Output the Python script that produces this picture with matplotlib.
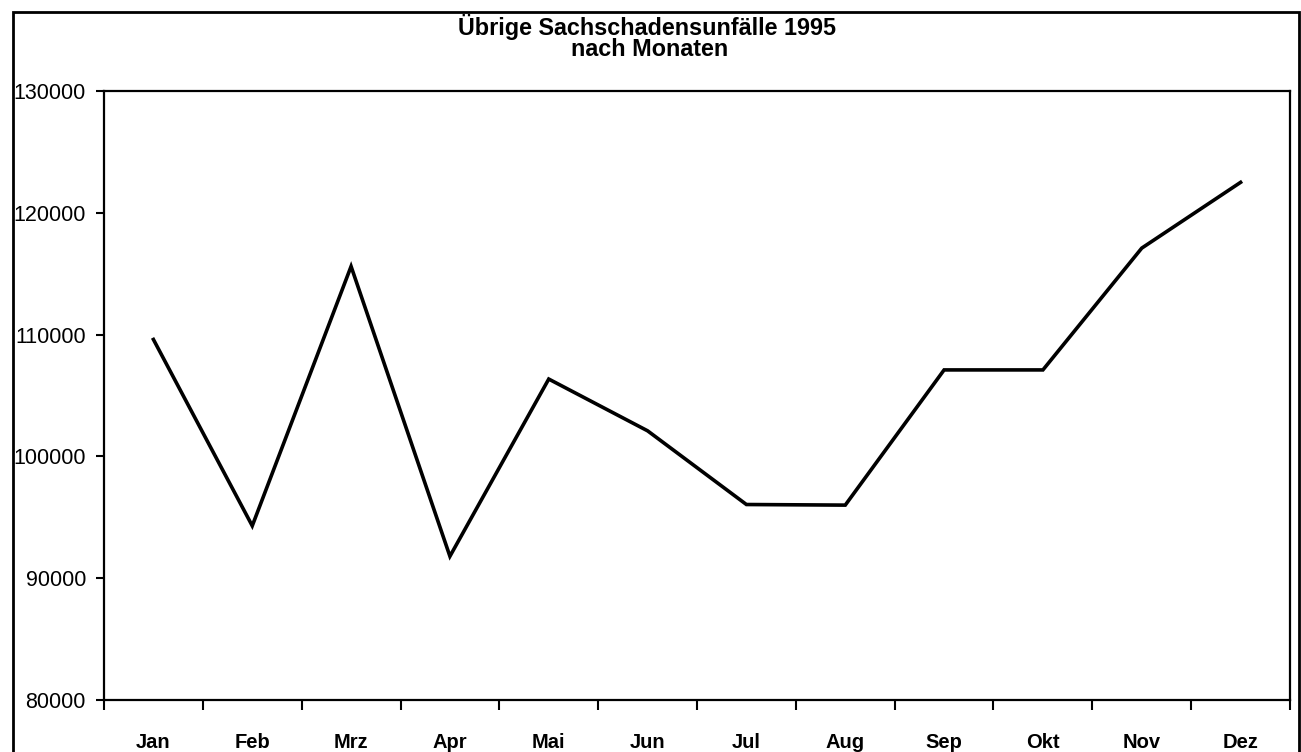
import matplotlib
matplotlib.use("Agg")
import matplotlib.pyplot as plt
from matplotlib.patches import Rectangle
import numpy as np

# data
months = ["Jan", "Feb", "Mrz", "Apr", "Mai", "Jun", "Jul", "Aug", "Sep", "Okt", "Nov", "Dez"]
accidents = [109600, 94300, 115600, 91800, 106350, 102100, 96050, 96000, 107100, 107100, 117100, 122500]
y_ticks = [80000, 90000, 100000, 110000, 120000, 130000]

plt.rcParams['font.family'] = ['Liberation Sans', 'DejaVu Sans']

fig = plt.figure(figsize=(13.01, 7.52), dpi=100)
ax = fig.add_axes([104 / 1301, 1 - 700 / 752, (1290 - 104) / 1301, (700 - 91) / 752])

x = np.arange(len(months))
ax.plot(x, accidents, color='black', lw=2.6, solid_joinstyle='miter')

ax.set_xlim(-0.5, len(months) - 0.5)
ax.set_ylim(y_ticks[0], y_ticks[-1])

# y axis
ax.set_yticks(y_ticks)
ax.set_yticklabels([str(v) for v in y_ticks], fontsize=15.5)
ax.tick_params(axis='y', length=6, width=1.5, pad=7)

# x axis: labels at category centres, tick marks at the boundaries
ax.set_xticks(x)
ax.set_xticklabels(months, fontsize=14.5, fontweight='bold')
ax.tick_params(axis='x', which='major', length=0, pad=24)
ax.set_xticks(np.arange(-0.5, len(months)), minor=True)
ax.tick_params(axis='x', which='minor', length=7, width=1.5)

for s in ax.spines.values():
    s.set_linewidth(1.6)

fig.text(647 / 1301, 1 - 26.5 / 752, "Übrige Sachschadensunfälle 1995",
         ha='center', va='center', fontsize=16.8, fontweight='bold')
fig.text(650 / 1301, 1 - 49.5 / 752, "nach Monaten",
         ha='center', va='center', fontsize=16.8, fontweight='bold')

# outer frame around the whole chart
frame = Rectangle((13 / 1301, -0.05), (1299 - 13) / 1301, 1.05 - 12 / 752,
                  transform=fig.transFigure, fill=False, lw=2, color='black')
fig.add_artist(frame)

fig.savefig("out.png", dpi=100)
